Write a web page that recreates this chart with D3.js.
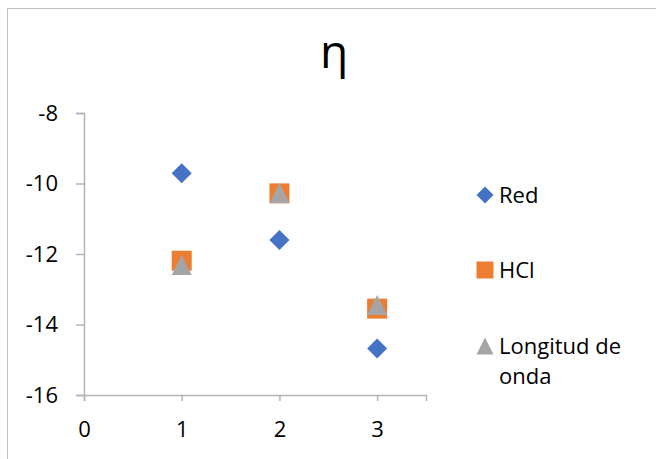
<!DOCTYPE html>
<html>
<head>
<meta charset="utf-8">
<script src="https://cdn.jsdelivr.net/npm/d3@7"></script>
<style>
  html, body { margin: 0; padding: 0; background: #fff; }
  svg { display: block; font-family: "Open Sans", sans-serif; }
</style>
</head>
<body>
<svg id="chart" width="656" height="459"></svg>
<script>
// Scatter data: x positions and η values per series
const xValues = [1, 2, 3];
const redValues = [-9.71, -11.60, -14.68];
const hclValues = [-12.19, -10.28, -13.55];
const longitudValues = [-12.31, -10.27, -13.45];
const xTicks = [0, 1, 2, 3];
const yTicks = [-8, -10, -12, -14, -16];
const seriesNames = ["Red", "HCl", "Longitud de onda"];
const seriesColors = ["#4472C4", "#ED7D31", "#A5A5A5"];
const titleText = "η";

// marker outlines, w = full width in px
const shapes = {
  diamond: w => `M0,${-w / 2}L${w / 2},0L0,${w / 2}L${-w / 2},0Z`,
  square: w => `M${-w / 2},${-w / 2}H${w / 2}V${w / 2}H${-w / 2}Z`,
  triangle: w => `M0,${-w / 2}L${w / 2},${w / 2}L${-w / 2},${w / 2}Z`
};

const series = [
  { name: seriesNames[0], values: redValues, color: seriesColors[0], shape: "diamond" },
  { name: seriesNames[1], values: hclValues, color: seriesColors[1], shape: "square" },
  { name: seriesNames[2], values: longitudValues, color: seriesColors[2], shape: "triangle" }
];

const svg = d3.select("#chart");

// chart frame (left and top edges visible)
svg.append("path")
  .attr("d", "M7.5,459 V8.5 H656")
  .attr("fill", "none")
  .attr("stroke", "#bfbfbf")
  .attr("stroke-width", 1);

const x = d3.scaleLinear().domain([0, 3.5]).range([84, 426]);
const y = d3.scaleLinear().domain([-16, -8]).range([395, 113]);

// title
svg.append("text")
  .attr("x", 334).attr("y", 68)
  .attr("text-anchor", "middle")
  .attr("font-size", 46)
  .attr("fill", "#000")
  .text(titleText);

// axes
const axisColor = "#b3b3b3";
const fmt = d => String(d);
const yAxis = svg.append("g")
  .attr("transform", `translate(${x(0)},0)`)
  .call(d3.axisLeft(y).tickValues(yTicks).tickSize(8).tickPadding(18).tickFormat(fmt));
const xAxis = svg.append("g")
  .attr("transform", `translate(0,${y(-16)})`)
  .call(d3.axisBottom(x).tickValues(xTicks).tickSize(6).tickPadding(20).tickFormat(fmt));

[xAxis, yAxis].forEach(g => {
  g.select(".domain").attr("stroke", axisColor).attr("stroke-width", 1.5);
  g.selectAll(".tick line").attr("stroke", axisColor).attr("stroke-width", 1.5);
  g.selectAll(".tick text").attr("fill", "#000").attr("font-size", 22)
    .attr("font-family", "'Open Sans', sans-serif");
});

// markers
series.forEach(s => {
  svg.append("g").selectAll("path")
    .data(xValues.map((xv, i) => [xv, s.values[i]]))
    .join("path")
    .attr("transform", d => `translate(${x(d[0])},${y(d[1])})`)
    .attr("d", shapes[s.shape](20))
    .attr("fill", s.color);
});

// legend
const legendY = [195, 270, 346];
const legend = svg.append("g");
series.forEach((s, i) => {
  legend.append("path")
    .attr("transform", `translate(485,${legendY[i]})`)
    .attr("d", shapes[s.shape](17))
    .attr("fill", s.color);
  const words = s.name === "Longitud de onda" ? ["Longitud de", "onda"] : [s.name];
  const t = legend.append("text")
    .attr("x", 499).attr("y", legendY[i] + 8)
    .attr("font-size", 22).attr("fill", "#000");
  words.forEach((w, j) => {
    t.append("tspan").attr("x", 499).attr("dy", j === 0 ? 0 : 30).text(w);
  });
});
</script>
</body>
</html>
